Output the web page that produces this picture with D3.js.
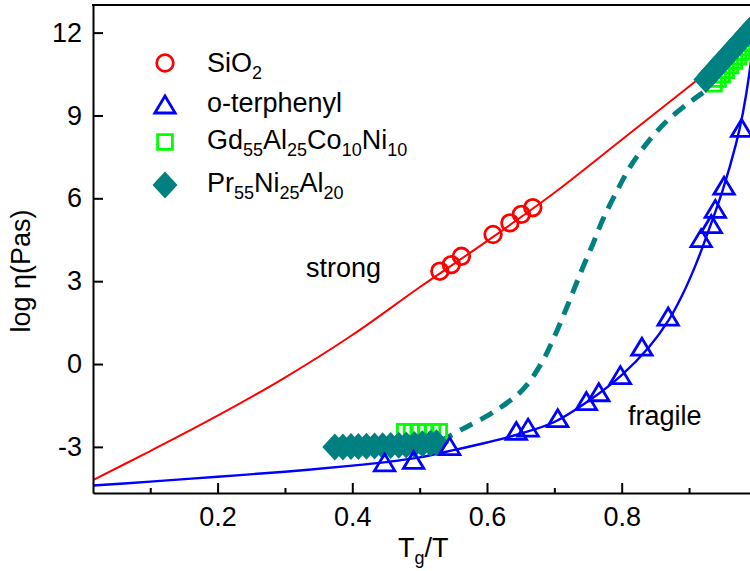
<!DOCTYPE html>
<html>
<head>
<meta charset="utf-8">
<script src="https://cdn.jsdelivr.net/npm/d3@7"></script>
<style>
  html, body { margin: 0; padding: 0; background: #fff; }
  svg text { font-family: Arial, "Liberation Sans", sans-serif; fill: #000; }
</style>
</head>
<body>
<svg id="chart" width="750" height="571"></svg>
<script>
// Viscosity (log η) against reduced temperature Tg/T

// SiO2 measurements and its fit curve
const sioX = [0.530, 0.547, 0.562, 0.609, 0.634, 0.651, 0.668];
const sioY = [3.36, 3.60, 3.90, 4.69, 5.11, 5.42, 5.66];
const sioFitX = [0.015, 0.1, 0.2, 0.3, 0.4, 0.5, 0.6, 0.7, 0.8, 0.9, 1.0];
const sioFitY = [-4.20, -3.15, -1.87, -0.49, 1.05, 2.78, 4.45, 6.20, 8.12, 10.05, 12.00];

// o-terphenyl measurements and its fit curve
const otpX = [0.448, 0.491, 0.5445, 0.6435, 0.661, 0.705, 0.7475, 0.766, 0.798, 0.830, 0.869, 0.918, 0.933, 0.939, 0.952, 0.978];
const otpY = [-3.58, -3.49, -2.99, -2.44, -2.32, -1.98, -1.36, -1.04, -0.42, 0.61, 1.70, 4.54, 5.05, 5.60, 6.44, 8.53];
const otpFitX = [0.015, 0.1, 0.2, 0.3, 0.4, 0.45, 0.5, 0.55, 0.6, 0.65, 0.7, 0.75, 0.8, 0.84, 0.87, 0.89, 0.91, 0.93, 0.95, 0.97, 0.98, 0.99, 1.0];
const otpFitY = [-4.40, -4.26, -4.08, -3.90, -3.68, -3.55, -3.38, -3.12, -2.84, -2.52, -2.10, -1.35, -0.40, 0.60, 1.60, 2.50, 3.60, 4.90, 6.30, 8.00, 9.10, 10.60, 12.80];

// Gd55Al25Co10Ni10 measurements (high-T and near-Tg)
const gdX = [0.478, 0.488, 0.498, 0.509, 0.519, 0.529,
             0.937, 0.943, 0.949, 0.955, 0.961, 0.967, 0.973, 0.979, 0.985, 0.991, 0.997];
const gdY = [-2.45, -2.45, -2.45, -2.45, -2.45, -2.45,
             10.15, 10.32, 10.48, 10.64, 10.81, 10.97, 11.13, 11.30, 11.46, 11.62, 11.79];

// Pr55Ni25Al20 measurements (high-T and near-Tg)
const prX = [0.374, 0.386, 0.398, 0.409, 0.421, 0.433, 0.445, 0.457, 0.469, 0.480, 0.492, 0.504, 0.516, 0.525,
             0.925, 0.931, 0.937, 0.943, 0.949, 0.955, 0.961, 0.967, 0.973, 0.979, 0.985, 0.991, 0.997];
const prY = [-3.00, -3.00, -2.99, -2.99, -2.98, -2.97, -2.96, -2.95, -2.94, -2.93, -2.91, -2.89, -2.87, -2.85,
             10.30, 10.47, 10.63, 10.79, 10.96, 11.12, 11.28, 11.45, 11.61, 11.77, 11.94, 12.10, 12.26];

// Guide curve linking the two Pr-based regimes
const guideX = [0.53, 0.564, 0.611, 0.653, 0.681, 0.698, 0.713, 0.728, 0.742, 0.757, 0.772, 0.792, 0.812, 0.837, 0.867, 0.905, 0.93];
const guideY = [-2.80, -2.35, -1.72, -0.93, 0.04, 0.88, 1.73, 2.63, 3.48, 4.33, 5.23, 6.22, 7.12, 7.98, 8.80, 9.55, 9.98];

const xMajor = [0.2, 0.4, 0.6, 0.8];
const xMinor = [0.1, 0.3, 0.5, 0.7, 0.9];
const yTicks = [-3, 0, 3, 6, 9, 12];

const COL = { red: "#ff0000", blue: "#0000ff", green: "#00ff00", teal: "#008080" };

const svg = d3.select("#chart");
svg.append("rect").attr("width", 750).attr("height", 571).attr("fill", "#fff");

const plotL = 93, plotR = 756.4, plotT = 5, plotB = 493;
const x = d3.scaleLinear().domain([0.015, 1.0]).range([plotL, plotR]);
const y = d3.scaleLinear().domain([-4.67, 13.0]).range([plotB, plotT]);

svg.append("clipPath").attr("id", "plotClip")
  .append("rect").attr("x", plotL).attr("y", plotT).attr("width", plotR - plotL).attr("height", plotB - plotT);

const plot = svg.append("g").attr("clip-path", "url(#plotClip)");

const zip = (xs, ys) => xs.map((v, i) => [v, ys[i]]);
const line = d3.line().x(d => x(d[0])).y(d => y(d[1])).curve(d3.curveCatmullRom.alpha(0.5));

// fit curves
plot.append("path").datum(zip(sioFitX, sioFitY)).attr("d", line)
  .attr("fill", "none").attr("stroke", COL.red).attr("stroke-width", 2);
plot.append("path").datum(zip(otpFitX, otpFitY)).attr("d", line)
  .attr("fill", "none").attr("stroke", COL.blue).attr("stroke-width", 2.4);
plot.append("path").datum(zip(guideX, guideY)).attr("d", line)
  .attr("fill", "none").attr("stroke", COL.teal).attr("stroke-width", 5)
  .attr("stroke-dasharray", "14,9");

// marker shapes
const triPath = "M0,-9 L10.2,8 L-10.2,8 Z";
const sqPath = "M-7.4,-7.4 H7.4 V7.4 H-7.4 Z";
const diaPath = "M0,-13.5 L12.5,0 L0,13.5 L-12.5,0 Z";
const markStroke = 2.8;
const circleR = 8.3;

plot.selectAll(".gd").data(zip(gdX, gdY)).join("path").attr("class", "gd")
  .attr("d", sqPath).attr("transform", d => `translate(${x(d[0])},${y(d[1])})`)
  .attr("fill", "none").attr("stroke", COL.green).attr("stroke-width", markStroke);

plot.selectAll(".pr").data(zip(prX, prY)).join("path").attr("class", "pr")
  .attr("d", diaPath).attr("transform", d => `translate(${x(d[0])},${y(d[1])})`)
  .attr("fill", COL.teal);

plot.selectAll(".otp").data(zip(otpX, otpY)).join("path").attr("class", "otp")
  .attr("d", triPath).attr("transform", d => `translate(${x(d[0])},${y(d[1])})`)
  .attr("fill", "none").attr("stroke", COL.blue).attr("stroke-width", markStroke);

plot.selectAll(".sio").data(zip(sioX, sioY)).join("circle").attr("class", "sio")
  .attr("cx", d => x(d[0])).attr("cy", d => y(d[1])).attr("r", circleR)
  .attr("fill", "none").attr("stroke", COL.red).attr("stroke-width", markStroke);

// axes
const fontSize = 27;
const gx = svg.append("g").attr("transform", `translate(0,${plotB})`)
  .call(d3.axisBottom(x).tickValues(xMajor).tickFormat(d3.format(".1f"))
    .tickSizeInner(-10).tickSizeOuter(0).tickPadding(14));
const gxm = svg.append("g").attr("transform", `translate(0,${plotB})`)
  .call(d3.axisBottom(x).tickValues(xMinor).tickFormat("").tickSizeInner(-5).tickSizeOuter(0));
gxm.select(".domain").remove();
const gy = svg.append("g").attr("transform", `translate(${plotL},0)`)
  .call(d3.axisLeft(y).tickValues(yTicks).tickFormat(d3.format("d"))
    .tickSizeInner(-10).tickSizeOuter(0).tickPadding(11));

[gx, gxm, gy].forEach(g => {
  g.selectAll("line").attr("stroke", "#000").attr("stroke-width", 2);
  g.selectAll(".domain").attr("stroke", "#000").attr("stroke-width", 2);
  g.selectAll("text").attr("font-size", fontSize)
    .attr("font-family", "Arial, 'Liberation Sans', sans-serif").attr("fill", "#000");
});
gy.selectAll("text").text(d => d < 0 ? "-" + Math.abs(d) : d);

// top frame
svg.append("line").attr("x1", plotL - 1).attr("x2", plotR).attr("y1", plotT).attr("y2", plotT)
  .attr("stroke", "#000").attr("stroke-width", 2);

// axis titles
svg.append("text").attr("transform", "translate(30,271) rotate(-90)")
  .attr("text-anchor", "middle").attr("font-size", fontSize).text("log η(Pas)");

const xTitle = svg.append("text").attr("x", 398).attr("y", 557).attr("font-size", fontSize);
xTitle.append("tspan").text("T");
xTitle.append("tspan").attr("font-size", 18).attr("dy", 7).text("g");
xTitle.append("tspan").attr("dy", -7).text("/T");

// region labels
svg.append("text").attr("x", 306).attr("y", 277).attr("font-size", fontSize).text("strong");
svg.append("text").attr("x", 628).attr("y", 425).attr("font-size", fontSize).text("fragile");

// legend
const legendRows = [
  { cy: 63, base: 72, parts: [["SiO"], ["2", 1]], mark: "circle", color: COL.red },
  { cy: 105, base: 112, parts: [["o-terphenyl"]], mark: "tri", color: COL.blue },
  { cy: 142, base: 149, parts: [["Gd"], ["55", 1], ["Al"], ["25", 1], ["Co"], ["10", 1], ["Ni"], ["10", 1]], mark: "sq", color: COL.green },
  { cy: 185, base: 192, parts: [["Pr"], ["55", 1], ["Ni"], ["25", 1], ["Al"], ["20", 1]], mark: "dia", color: COL.teal }
];
const legend = svg.append("g");
legendRows.forEach(r => {
  const mx = 165;
  if (r.mark === "circle") {
    legend.append("circle").attr("cx", mx).attr("cy", r.cy).attr("r", circleR)
      .attr("fill", "none").attr("stroke", r.color).attr("stroke-width", markStroke);
  } else if (r.mark === "tri") {
    legend.append("path").attr("d", triPath).attr("transform", `translate(${mx},${r.cy})`)
      .attr("fill", "none").attr("stroke", r.color).attr("stroke-width", markStroke);
  } else if (r.mark === "sq") {
    legend.append("path").attr("d", sqPath).attr("transform", `translate(${mx},${r.cy})`)
      .attr("fill", "none").attr("stroke", r.color).attr("stroke-width", markStroke);
  } else {
    legend.append("path").attr("d", diaPath).attr("transform", `translate(${mx},${r.cy})`)
      .attr("fill", r.color);
  }
  const t = legend.append("text").attr("x", 207).attr("y", r.base).attr("font-size", fontSize);
  let shifted = false;
  r.parts.forEach(p => {
    const ts = t.append("tspan").text(p[0]);
    if (p[1] && !shifted) { ts.attr("font-size", 18).attr("dy", 7); shifted = true; }
    else if (!p[1] && shifted) { ts.attr("dy", -7); shifted = false; }
    else if (p[1]) { ts.attr("font-size", 18); }
  });
});
</script>
</body>
</html>
